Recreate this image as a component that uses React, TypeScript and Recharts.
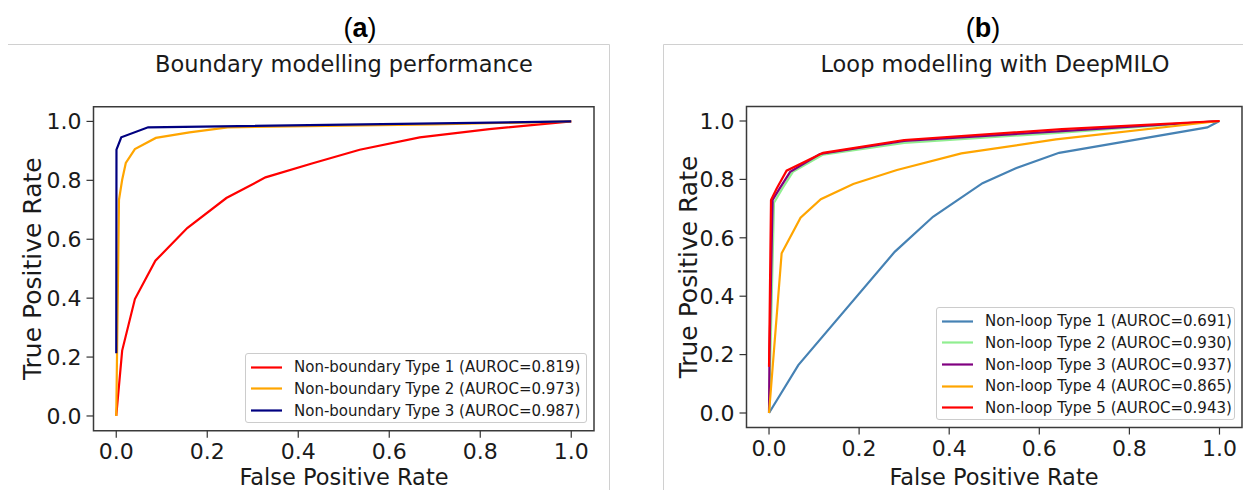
import React from 'react';
import { LineChart, Line, XAxis, YAxis, ReferenceArea, Legend } from 'recharts';

const FONT = '"DejaVu Sans", Verdana, sans-serif';

const axisTicks = [0, 0.2, 0.4, 0.6, 0.8, 1.0];

// ---- Panel (a): Boundary modelling performance ----
const aNames = [
  'Non-boundary Type 1 (AUROC=0.819)',
  'Non-boundary Type 2 (AUROC=0.973)',
  'Non-boundary Type 3 (AUROC=0.987)',
];
const aColors = ['#ff0000', '#ffa500', '#000080'];
const aType1Fpr = [0, 0.013, 0.041, 0.086, 0.156, 0.242, 0.328, 0.43, 0.535, 0.667, 0.82, 1];
const aType1Tpr = [0, 0.222, 0.397, 0.527, 0.638, 0.74, 0.81, 0.857, 0.904, 0.946, 0.974, 1];
const aType2Fpr = [0, 0.006, 0.013, 0.021, 0.041, 0.087, 0.161, 0.245, 0.7, 1];
const aType2Tpr = [0, 0.734, 0.802, 0.859, 0.906, 0.944, 0.963, 0.98, 0.99, 1];
const aType3Fpr = [0, 0.0005, 0.011, 0.07, 1];
const aType3Tpr = [0.213, 0.904, 0.946, 0.98, 1];

// ---- Panel (b): Loop modelling with DeepMILO ----
const bNames = [
  'Non-loop Type 1 (AUROC=0.691)',
  'Non-loop Type 2 (AUROC=0.930)',
  'Non-loop Type 3 (AUROC=0.937)',
  'Non-loop Type 4 (AUROC=0.865)',
  'Non-loop Type 5 (AUROC=0.943)',
];
const bColors = ['#4682b4', '#90ee90', '#800080', '#ffa500', '#ff0000'];
const bType1Fpr = [0, 0.065, 0.279, 0.364, 0.474, 0.548, 0.644, 0.973, 1];
const bType1Tpr = [0, 0.164, 0.552, 0.672, 0.787, 0.838, 0.891, 0.978, 1];
const bType2Fpr = [0, 0.011, 0.03, 0.053, 0.12, 0.3, 0.65, 1];
const bType2Tpr = [0, 0.72, 0.77, 0.826, 0.885, 0.925, 0.96, 1];
const bType3Fpr = [0, 0.001, 0.008, 0.024, 0.047, 0.113, 0.3, 0.65, 1];
const bType3Tpr = [0, 0.2, 0.73, 0.77, 0.826, 0.887, 0.932, 0.965, 1];
const bType4Fpr = [0, 0.028, 0.07, 0.115, 0.187, 0.284, 0.427, 0.637, 1];
const bType4Tpr = [0, 0.547, 0.669, 0.732, 0.784, 0.832, 0.889, 0.937, 1];
const bType5Fpr = [0, 0.0044, 0.017, 0.039, 0.12, 0.3, 0.65, 1];
const bType5Tpr = [0.158, 0.729, 0.769, 0.83, 0.891, 0.935, 0.972, 1];

const zip = (xs: number[], ys: number[]) => xs.map((x, i) => ({ x, y: ys[i] }));

const aSeries = [
  zip(aType1Fpr, aType1Tpr),
  zip(aType2Fpr, aType2Tpr),
  zip(aType3Fpr, aType3Tpr),
];
const bSeries = [
  zip(bType1Fpr, bType1Tpr),
  zip(bType2Fpr, bType2Tpr),
  zip(bType3Fpr, bType3Tpr),
  zip(bType4Fpr, bType4Tpr),
  zip(bType5Fpr, bType5Tpr),
];

type PanelProps = {
  left: number;
  width: number;
  plotLeft: number;
  plotRight: number;
  plotTop: number;
  plotBottom: number;
  series: { x: number; y: number }[][];
  names: string[];
  colors: string[];
  legend: { left: number; top: number; width: number; height: number };
};

const makeLegend = (w: number, h: number) => (props: any) => {
  const payload = props.payload || [];
  return (
    <div
      style={{
        boxSizing: 'border-box',
        width: w,
        height: h,
        border: '1px solid #cccccc',
        borderRadius: 3,
        background: 'rgba(255,255,255,0.85)',
        paddingTop: 2,
        fontFamily: FONT,
        fontSize: 15,
        color: '#1a1a1a',
      }}
    >
      {payload.map((p: any, i: number) => (
        <div key={i} style={{ height: 21.7, display: 'flex', alignItems: 'center', whiteSpace: 'nowrap' }}>
          <svg width={48} height={21} style={{ flex: '0 0 48px' }}>
            <line x1={5} x2={36} y1={10.5} y2={10.5} stroke={p.color} strokeWidth={2.2} />
          </svg>
          <span>{p.value}</span>
        </div>
      ))}
    </div>
  );
};

function RocPanel(p: PanelProps) {
  const height = 490;
  return (
    <div style={{ position: 'absolute', left: p.left, top: 0, width: p.width, height }}>
      <LineChart
        width={p.width}
        height={height}
        margin={{ top: p.plotTop, right: p.width - p.plotRight, bottom: 0, left: 0 }}
      >
        <XAxis
          type="number"
          dataKey="x"
          domain={[-0.05, 1.05]}
          ticks={axisTicks}
          tickFormatter={(v: number) => v.toFixed(1)}
          height={height - p.plotBottom}
          axisLine={false}
          tickLine={{ stroke: '#333', strokeWidth: 1.2 }}
          tickSize={7}
          tickMargin={6}
          tick={{ fontSize: 22, fill: '#1a1a1a', fontFamily: FONT }}
          allowDataOverflow
        />
        <YAxis
          type="number"
          domain={[-0.05, 1.05]}
          ticks={axisTicks}
          tickFormatter={(v: number) => v.toFixed(1)}
          width={p.plotLeft}
          axisLine={false}
          tickLine={{ stroke: '#333', strokeWidth: 1.2 }}
          tickSize={7}
          tickMargin={5}
          tick={{ fontSize: 22, fill: '#1a1a1a', fontFamily: FONT }}
          allowDataOverflow
        />
        <ReferenceArea
          x1={-0.05}
          x2={1.05}
          y1={-0.05}
          y2={1.05}
          fill="none"
          fillOpacity={0}
          stroke="#3a3a3a"
          strokeWidth={1.5}
          ifOverflow="visible"
        />
        {p.series.map((d, i) => (
          <Line
            key={i}
            data={d}
            dataKey="y"
            name={p.names[i]}
            type="linear"
            stroke={p.colors[i]}
            strokeWidth={2.2}
            dot={false}
            activeDot={false}
            isAnimationActive={false}
          />
        ))}
        <Legend
          layout="vertical"
          align="center"
          verticalAlign="middle"
          content={makeLegend(p.legend.width, p.legend.height)}
          wrapperStyle={{
            position: 'absolute',
            left: p.legend.left,
            top: p.legend.top,
            width: p.legend.width,
            height: p.legend.height,
          }}
        />
      </LineChart>
    </div>
  );
}

export default function App() {
  return (
    <div style={{ position: 'absolute', left: 0, top: 0, width: 1243, height: 490, background: '#fff', overflow: 'hidden' }}>
      <svg width={1243} height={490} style={{ position: 'absolute', left: 0, top: 0 }}>
        {/* panel frames */}
        <line x1={8} x2={609.5} y1={44.5} y2={44.5} stroke="#d0d0d0" strokeWidth={1} />
        <line x1={609.5} x2={609.5} y1={44.5} y2={490} stroke="#d0d0d0" strokeWidth={1} />
        <line x1={663.5} x2={1243} y1={44.5} y2={44.5} stroke="#d0d0d0" strokeWidth={1} />
        <line x1={663.5} x2={663.5} y1={44.5} y2={490} stroke="#d0d0d0" strokeWidth={1} />
        {/* panel letters */}
        <text x={360} y={37} textAnchor="middle" fontFamily='"Liberation Sans", Arial, sans-serif' fontSize={27} fill="#000">
          (<tspan fontWeight="bold">a</tspan>)
        </text>
        <text x={983} y={37} textAnchor="middle" fontFamily='"Liberation Sans", Arial, sans-serif' fontSize={27} fill="#000">
          (<tspan fontWeight="bold">b</tspan>)
        </text>
        {/* titles */}
        <text x={344} y={72} textAnchor="middle" fontFamily={FONT} fontSize={22.5} fill="#1a1a1a">
          Boundary modelling performance
        </text>
        <text x={995} y={72} textAnchor="middle" fontFamily={FONT} fontSize={22.5} fill="#1a1a1a">
          Loop modelling with DeepMILO
        </text>
        {/* axis labels */}
        <text x={344} y={485} textAnchor="middle" fontFamily={FONT} fontSize={22.5} fill="#1a1a1a">
          False Positive Rate
        </text>
        <text x={994} y={485} textAnchor="middle" fontFamily={FONT} fontSize={22.5} fill="#1a1a1a">
          False Positive Rate
        </text>
        <text
          x={33}
          y={268.7}
          textAnchor="middle"
          dominantBaseline="central"
          transform="rotate(-90 33 268.7)"
          fontFamily={FONT}
          fontSize={25}
          fill="#1a1a1a"
        >
          True Positive Rate
        </text>
        <text
          x={688}
          y={267}
          textAnchor="middle"
          dominantBaseline="central"
          transform="rotate(-90 688 267)"
          fontFamily={FONT}
          fontSize={25}
          fill="#1a1a1a"
        >
          True Positive Rate
        </text>
      </svg>
      <RocPanel
        left={0}
        width={620}
        plotLeft={93.5}
        plotRight={594}
        plotTop={106.7}
        plotBottom={430.7}
        series={aSeries}
        names={aNames}
        colors={aColors}
        legend={{ left: 245, top: 353.3, width: 342, height: 70 }}
      />
      <RocPanel
        left={620}
        width={623}
        plotLeft={126.5}
        plotRight={622}
        plotTop={106.4}
        plotBottom={427.6}
        series={bSeries}
        names={bNames}
        colors={bColors}
        legend={{ left: 316, top: 307.3, width: 299, height: 113 }}
      />
    </div>
  );
}
